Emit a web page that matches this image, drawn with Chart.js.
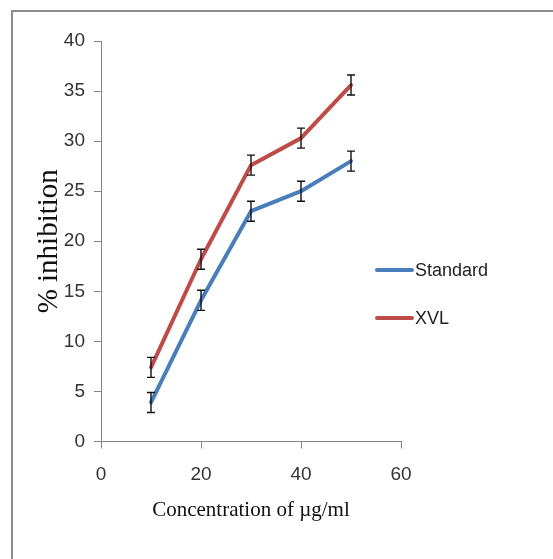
<!DOCTYPE html>
<html>
<head>
<meta charset="utf-8">
<script src="https://cdn.jsdelivr.net/npm/chart.js@4"></script>
<style>
  html, body { margin: 0; padding: 0; background: #fff; }
  canvas { display: block; }
</style>
</head>
<body>
<canvas id="grafico" width="553" height="559"></canvas>
<script>
const concentrations = [10, 20, 30, 40, 50];
const standardValues = [3.9, 14.1, 23.0, 25.0, 28.0];
const standardErrors = [1, 1, 1, 1, 1];
const xvlValues = [7.4, 18.2, 27.6, 30.3, 35.6];
const xvlErrors = [1, 1, 1, 1, 1];
const xTicks = [0, 20, 40, 60];
const yTicks = [0, 5, 10, 15, 20, 25, 30, 35, 40];

const tickFont = '"Liberation Sans Narrow", "Liberation Sans", Arial, sans-serif';
const titleFont = '"Liberation Serif", "Times New Roman", serif';

const toPoints = (vals) => concentrations.map((c, i) => ({ x: c, y: vals[i] }));

// error bars, drawn through the scales
const errorBars = {
  id: 'errorBars',
  afterDatasetsDraw(chart) {
    const { ctx, scales: { x, y } } = chart;
    ctx.save();
    ctx.strokeStyle = '#111';
    ctx.lineWidth = 1.4;
    chart.data.datasets.forEach(ds => {
      ds.data.forEach((p, i) => {
        const e = ds.errors[i];
        const px = x.getPixelForValue(p.x);
        const top = y.getPixelForValue(p.y + e);
        const bot = y.getPixelForValue(p.y - e);
        ctx.beginPath();
        ctx.moveTo(px, top); ctx.lineTo(px, bot);
        ctx.moveTo(px - 4, top); ctx.lineTo(px + 4, top);
        ctx.moveTo(px - 4, bot); ctx.lineTo(px + 4, bot);
        ctx.stroke();
      });
    });
    ctx.restore();
  }
};

// frame + legend on the right
const frameAndLegend = {
  id: 'frameAndLegend',
  beforeDraw(chart) {
    const ctx = chart.ctx;
    ctx.save();
    ctx.fillStyle = '#fff';
    ctx.fillRect(0, 0, chart.width, chart.height);
    ctx.strokeStyle = '#8c8c8c';
    ctx.lineWidth = 2;
    ctx.strokeRect(12, 11, 700, 700);
    ctx.restore();
  },
  afterDraw(chart) {
    const ctx = chart.ctx;
    ctx.save();
    chart.data.datasets.forEach((ds, i) => {
      const yy = 270 + i * 48;
      ctx.strokeStyle = ds.borderColor;
      ctx.lineWidth = 4;
      ctx.lineCap = 'round';
      ctx.beginPath();
      ctx.moveTo(377, yy); ctx.lineTo(412, yy);
      ctx.stroke();
      ctx.fillStyle = '#222';
      ctx.font = '18px ' + tickFont;
      ctx.textBaseline = 'middle';
      ctx.fillText(ds.label, 415, yy + 1);
    });
    ctx.restore();
  }
};

new Chart(document.getElementById('grafico').getContext('2d'), {
  type: 'line',
  data: {
    datasets: [
      {
        label: 'Standard',
        data: toPoints(standardValues),
        errors: standardErrors,
        borderColor: '#4a7ebb',
        borderWidth: 4,
        pointRadius: 0,
        tension: 0,
        borderCapStyle: 'round',
        borderJoinStyle: 'round'
      },
      {
        label: 'XVL',
        data: toPoints(xvlValues),
        errors: xvlErrors,
        borderColor: '#be4b48',
        borderWidth: 4,
        pointRadius: 0,
        tension: 0,
        borderCapStyle: 'round',
        borderJoinStyle: 'round'
      }
    ]
  },
  options: {
    responsive: false,
    animation: false,
    layout: { padding: { left: 31, top: 41, right: 152, bottom: 0 } },
    plugins: {
      legend: { display: false },
      tooltip: { enabled: false }
    },
    scales: {
      x: {
        type: 'linear',
        min: 0,
        max: 60,
        afterBuildTicks: s => { s.ticks = xTicks.map(v => ({ value: v })); },
        afterFit: s => { s.height = 117.5; },
        grid: { drawOnChartArea: false, tickLength: 7, color: '#868686' },
        border: { color: '#868686' },
        ticks: { color: '#333', padding: 15, font: { size: 19, family: tickFont } },
        title: {
          display: true,
          text: 'Concentration of µg/ml',
          color: '#111',
          font: { size: 21, family: titleFont },
          padding: { top: 0, bottom: 36 }
        }
      },
      y: {
        min: 0,
        max: 40,
        afterBuildTicks: s => { s.ticks = yTicks.map(v => ({ value: v })); },
        afterFit: s => { s.width = 70; },
        grid: { drawOnChartArea: false, tickLength: 7, color: '#868686' },
        border: { color: '#868686' },
        ticks: { color: '#333', padding: 9, font: { size: 19, family: tickFont } },
        title: {
          display: true,
          text: '% inhibition',
          color: '#111',
          font: { size: 29, family: titleFont },
          padding: { top: 1, bottom: 0 }
        }
      }
    }
  },
  plugins: [frameAndLegend, errorBars]
});
</script>
</body>
</html>
